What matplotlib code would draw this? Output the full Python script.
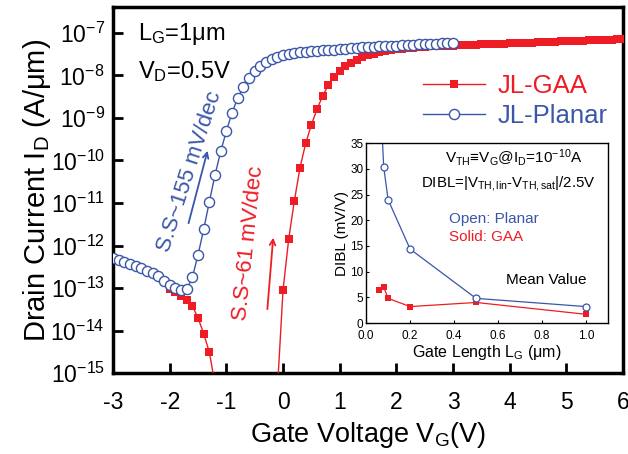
"""JL-GAA vs JL-Planar transfer curves with DIBL inset."""

import matplotlib
matplotlib.use("Agg")
import matplotlib.pyplot as plt
import numpy as np

RED = "#ee1c25"
BLUE = "#3a56a8"

# main panel: log10(I_D) vs V_G
vg_planar = [round(-3.0 + 0.1 * i, 1) for i in range(61)]
log_id_planar = [
    -12.30, -12.34, -12.39, -12.43, -12.48, -12.53, -12.59, -12.65, -12.72, -12.83,
    -12.93, -12.99, -13.05, -13.03, -12.75, -12.22, -11.62, -10.97, -10.34, -9.79,
    -9.31, -8.88, -8.54, -8.28, -8.07, -7.89, -7.77, -7.68, -7.61, -7.565,
    -7.53, -7.49, -7.47, -7.455, -7.445, -7.435, -7.425, -7.415, -7.405, -7.395,
    -7.385, -7.375, -7.365, -7.355, -7.345, -7.34, -7.33, -7.32, -7.315, -7.31,
    -7.30, -7.295, -7.29, -7.28, -7.275, -7.27, -7.26, -7.255, -7.25, -7.245,
    -7.24,
]

vg_gaa = [round(-2.0 + 0.1 * i, 1) for i in range(81)]
log_id_gaa = [
    -13.02, -13.09, -13.18, -13.28, -13.42, -13.70, -14.07, -14.51, -15.26, -15.8,
    -16.2, -16.5, -16.7, -16.8, -16.8, -16.7, -16.5, -16.2, -15.8, -15.4,
    -13.05, -11.85, -10.95, -10.17, -9.60, -9.16, -8.80, -8.48, -8.23, -8.04,
    -7.89, -7.79, -7.70, -7.64, -7.57, -7.52, -7.49, -7.45, -7.42, -7.40,
    -7.38, -7.37, -7.36, -7.35, -7.34, -7.33, -7.32, -7.32, -7.31, -7.31,
    -7.30, -7.295, -7.29, -7.285, -7.28, -7.275, -7.27, -7.265, -7.26, -7.255,
    -7.25, -7.245, -7.24, -7.235, -7.23, -7.225, -7.22, -7.215, -7.21, -7.205,
    -7.20, -7.195, -7.19, -7.185, -7.18, -7.175, -7.17, -7.165, -7.16, -7.155,
    -7.15,
]

# inset: DIBL vs gate length
lg_planar = [0.06, 0.08, 0.1, 0.2, 0.5, 1.0]
dibl_planar = [48.0, 30.4, 24.0, 14.4, 4.8, 3.2]
lg_gaa = [0.06, 0.08, 0.1, 0.2, 0.5, 1.0]
dibl_gaa = [6.4, 7.0, 4.8, 3.2, 4.0, 1.7]

x_ticks = [-3, -2, -1, 0, 1, 2, 3, 4, 5, 6]

plt.rcParams["font.family"] = ["Liberation Sans", "DejaVu Sans"]
plt.rcParams["mathtext.fontset"] = "custom"
plt.rcParams["mathtext.rm"] = "Liberation Sans"
plt.rcParams["mathtext.it"] = "Liberation Sans:italic"
plt.rcParams["mathtext.default"] = "regular"
plt.rcParams["axes.unicode_minus"] = False

fig = plt.figure(figsize=(6.28, 4.54), dpi=100)
ax = fig.add_axes([0.180, 0.178, 0.812, 0.807])

ax.plot(vg_gaa, 10 ** np.array(log_id_gaa), color=RED, lw=1.0, marker="s",
        markersize=5.5, markeredgewidth=0, label="JL-GAA", zorder=3)
ax.plot(vg_planar, 10 ** np.array(log_id_planar), color=BLUE, lw=1.0, marker="o",
        markersize=7.3, markerfacecolor="white", markeredgecolor=BLUE,
        markeredgewidth=1.0, label="JL-Planar", zorder=4)

ax.set_yscale("log")
ax.set_ylim(1e-15, 10 ** -6.39)
ax.set_xlim(-3, 6)
ax.set_xticks(x_ticks)
ax.set_yticks([10.0 ** k for k in range(-15, -6)])
ax.minorticks_off()
ax.tick_params(direction="in", length=7, width=2, labelsize=16.5,
               top=False, right=False)
ax.tick_params(axis="x", pad=13)
ax.tick_params(axis="y", pad=6)
for s in ax.spines.values():
    s.set_linewidth(2.5)

ax.set_xlabel("Gate Voltage V$_G$(V)", fontsize=19.5, labelpad=4)
ax.set_ylabel("Drain Current I$_D$ (A/μm)", fontsize=21, labelpad=-2)

ax.text(0.049, 0.9095, "L$_G$=1μm", transform=ax.transAxes, fontsize=17,
        ha="left", va="baseline")
ax.text(0.049, 0.806, "V$_D$=0.5V", transform=ax.transAxes, fontsize=17,
        ha="left", va="baseline")

ax.text(-1.64, 10 ** -10.25, "S.S~155 mV/dec", color=BLUE, fontsize=16,
        rotation=72, ha="center", va="center")
ax.annotate("", xy=(-1.32, 10 ** -9.71), xytext=(-1.68, 10 ** -11.54),
            arrowprops=dict(arrowstyle="->", color=BLUE, lw=1.3))
ax.text(-0.6, 10 ** -11.95, "S.S~61 mV/dec", color=RED, fontsize=16,
        rotation=84, ha="center", va="center")
ax.annotate("", xy=(-0.17, 10 ** -11.75), xytext=(-0.28, 10 ** -13.56),
            arrowprops=dict(arrowstyle="->", color=RED, lw=1.3))

ax.legend(loc="upper left", bbox_to_anchor=(0.563, 0.88), frameon=False,
          fontsize=18.5, handlelength=2.4, handletextpad=0.5, labelspacing=0.22,
          labelcolor="linecolor")

# inset
ins = fig.add_axes([0.583, 0.2885, 0.385, 0.396])
ins.plot(lg_gaa, dibl_gaa, color=RED, lw=0.9, marker="s", markersize=4.5,
         markeredgewidth=0)
ins.plot(lg_planar, dibl_planar, color=BLUE, lw=0.9, marker="o", markersize=5,
         markerfacecolor="white", markeredgecolor=BLUE, markeredgewidth=0.9)
ins.set_xlim(0, 1.1)
ins.set_ylim(0, 35)
ins.set_xticks([0.0, 0.2, 0.4, 0.6, 0.8, 1.0])
ins.set_xticklabels(["0.0", "0.2", "0.4", "0.6", "0.8", "1.0"])
ins.set_yticks([0, 5, 10, 15, 20, 25, 30, 35])
ins.tick_params(direction="in", length=2, width=0.8, labelsize=8.5)
ins.tick_params(axis="x", pad=5)
ins.tick_params(axis="y", pad=2)
for s in ins.spines.values():
    s.set_linewidth(1.0)
ins.set_xlabel("Gate Length L$_G$ (μm)", fontsize=11.5, labelpad=1)
ins.set_ylabel("DIBL (mV/V)", fontsize=11, labelpad=1)

ins.text(0.67, 32.3, "V$_{TH}$≡V$_G$@I$_D$=10$^{-10}$A", fontsize=11,
         ha="center", va="center")
ins.text(0.645, 27.2, "DIBL=|V$_{TH,lin}$-V$_{TH,sat}$|/2.5V", fontsize=10.8,
         ha="center", va="center")
ins.text(0.377, 20.2, "Open: Planar", color=BLUE, fontsize=11, ha="left", va="center")
ins.text(0.377, 16.7, "Solid: GAA", color=RED, fontsize=11, ha="left", va="center")
ins.text(0.82, 8.4, "Mean Value", fontsize=11, ha="center", va="center")

fig.savefig("out.png", dpi=100)
